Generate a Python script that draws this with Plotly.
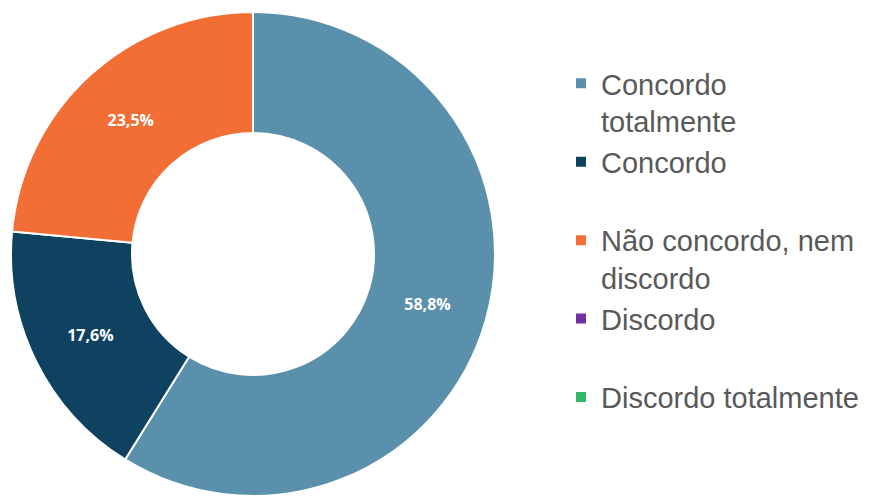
import plotly.graph_objects as go

labels = ["Concordo totalmente", "Concordo", "Não concordo, nem discordo", "Discordo", "Discordo totalmente"]
legend_labels = ["Concordo<br>totalmente", "Concordo<br> ", "Não concordo, nem<br>discordo", "Discordo<br> ", "Discordo totalmente"]
values = [58.8, 17.6, 23.5, 0.0, 0.0]
colors = ["#5A90AC", "#0F4160", "#F26E35", "#7030A0", "#33B86A"]

texts = [(f"{v:.1f}".replace(".", ",") + "%") if v > 0 else "" for v in values]

fig = go.Figure(go.Pie(
    labels=legend_labels,
    values=values,
    text=texts,
    textinfo="text",
    textposition="inside",
    insidetextorientation="horizontal",
    textfont=dict(family="Open Sans", size=16, color="white", weight="bold"),
    marker=dict(colors=colors, line=dict(color="white", width=2)),
    hole=0.5,
    sort=False,
    direction="clockwise",
    rotation=0,
    domain=dict(x=[10/873, 496/873], y=[0, 1 - 12/496]),
    hoverinfo="label+percent",
))

fig.update_layout(
    width=873, height=496,
    margin=dict(l=0, r=0, t=0, b=0),
    paper_bgcolor="white",
    plot_bgcolor="white",
    showlegend=True,
    legend=dict(
        x=561/873, xanchor="left",
        y=1 - 58/496, yanchor="top",
        font=dict(family="Liberation Sans", size=29, color="#595959"),
        valign="top",
        bgcolor="rgba(0,0,0,0)",
    ),
)

fig.write_html("out.html")
